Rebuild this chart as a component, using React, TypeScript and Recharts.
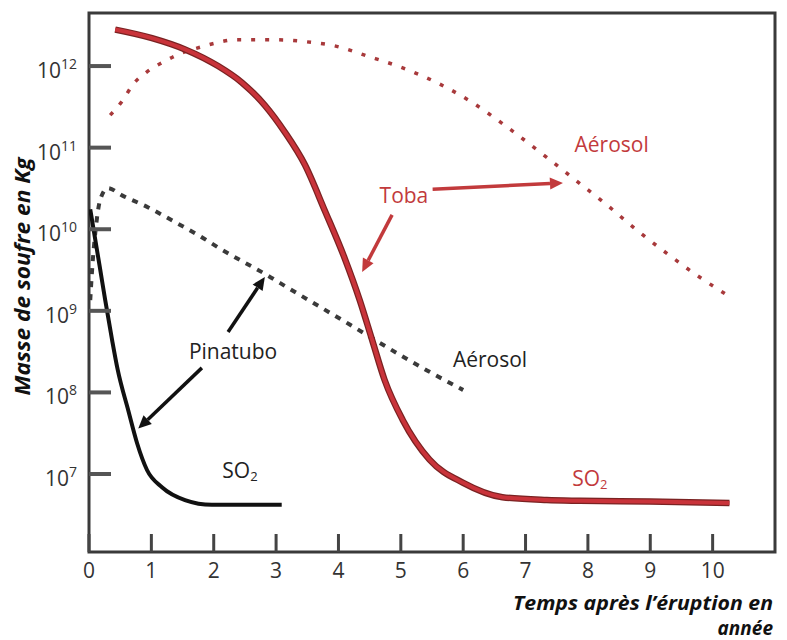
import React from "react";
import {
  LineChart,
  Line,
  XAxis,
  YAxis,
  ReferenceArea,
  ReferenceLine,
  ReferenceDot,
  Label,
} from "recharts";

// ---- Data (time in years, sulfur mass in kg) ----
const tobaSO2 = [
  { t: 0.42, v: 2.8e12 },
  { t: 1.01, v: 2.2e12 },
  { t: 1.54, v: 1.6e12 },
  { t: 2.07, v: 1.0e12 },
  { t: 2.45, v: 6.3e11 },
  { t: 2.82, v: 3.3e11 },
  { t: 3.14, v: 1.55e11 },
  { t: 3.46, v: 6.2e10 },
  { t: 3.78, v: 1.7e10 },
  { t: 4.1, v: 4.4e9 },
  { t: 4.34, v: 1.36e9 },
  { t: 4.54, v: 4.4e8 },
  { t: 4.74, v: 1.42e8 },
  { t: 5.03, v: 4.6e7 },
  { t: 5.46, v: 1.5e7 },
  { t: 6.0, v: 7.8e6 },
  { t: 6.63, v: 5.2e6 },
  { t: 7.34, v: 4.8e6 },
  { t: 7.87, v: 4.7e6 },
  { t: 8.99, v: 4.6e6 },
  { t: 10.27, v: 4.4e6 },
];

const tobaAerosol = [
  { t: 0.34, v: 2.5e11 },
  { t: 0.53, v: 3.7e11 },
  { t: 0.71, v: 6.0e11 },
  { t: 0.93, v: 8.5e11 },
  { t: 1.19, v: 1.12e12 },
  { t: 1.49, v: 1.45e12 },
  { t: 1.78, v: 1.7e12 },
  { t: 2.07, v: 1.95e12 },
  { t: 2.34, v: 2.1e12 },
  { t: 2.98, v: 2.1e12 },
  { t: 3.57, v: 1.95e12 },
  { t: 3.89, v: 1.8e12 },
  { t: 4.5, v: 1.3e12 },
  { t: 5.03, v: 9.5e11 },
  { t: 5.59, v: 6.2e11 },
  { t: 6.14, v: 3.6e11 },
  { t: 6.7, v: 1.8e11 },
  { t: 7.34, v: 7.6e10 },
  { t: 7.82, v: 3.9e10 },
  { t: 8.3, v: 2.0e10 },
  { t: 8.78, v: 9.8e9 },
  { t: 9.26, v: 5.1e9 },
  { t: 9.74, v: 2.75e9 },
  { t: 10.27, v: 1.5e9 },
];

const pinatuboSO2 = [
  { t: 0.02, v: 1.75e10 },
  { t: 0.18, v: 3.2e9 },
  { t: 0.26, v: 1.35e9 },
  { t: 0.37, v: 4.4e8 },
  { t: 0.46, v: 1.9e8 },
  { t: 0.63, v: 6.0e7 },
  { t: 0.77, v: 2.4e7 },
  { t: 0.93, v: 1.12e7 },
  { t: 1.17, v: 6.9e6 },
  { t: 1.54, v: 4.8e6 },
  { t: 1.97, v: 4.2e6 },
  { t: 3.09, v: 4.2e6 },
];

const pinatuboAerosol = [
  { t: 0.02, v: 1.35e9 },
  { t: 0.05, v: 3.2e9 },
  { t: 0.1, v: 8.9e9 },
  { t: 0.18, v: 2.3e10 },
  { t: 0.3, v: 3.2e10 },
  { t: 0.53, v: 2.6e10 },
  { t: 0.95, v: 1.85e10 },
  { t: 1.35, v: 1.26e10 },
  { t: 1.75, v: 8.5e9 },
  { t: 2.1, v: 5.8e9 },
  { t: 2.47, v: 4.0e9 },
  { t: 2.87, v: 2.7e9 },
  { t: 3.06, v: 2.2e9 },
  { t: 4.18, v: 6.8e8 },
  { t: 4.98, v: 2.9e8 },
  { t: 5.42, v: 1.86e8 },
  { t: 6.0, v: 1.07e8 },
];

const xTicks = [0, 1, 2, 3, 4, 5, 6, 7, 8, 9, 10];
const yTicks = [1e7, 1e8, 1e9, 1e10, 1e11, 1e12];
const yTickExponents = ["7", "8", "9", "10", "11", "12"];
const xDomain = [0, 11];
const yDomain = [1.107e6, 4.47e12];

// annotations: arrows [from, to] and labels
const arrows = [
  { from: { t: 5.51, v: 3.1e10 }, to: { t: 7.6, v: 3.7e10 }, color: "#c23a3c" },
  { from: { t: 4.86, v: 1.5e10 }, to: { t: 4.38, v: 3.0e9 }, color: "#c23a3c" },
  { from: { t: 2.23, v: 5.5e8 }, to: { t: 2.82, v: 2.6e9 }, color: "#111111" },
  { from: { t: 1.81, v: 2.0e8 }, to: { t: 0.79, v: 3.6e7 }, color: "#111111" },
];

const labels = [
  { t: 5.05, v: 2.6e10, text: "Toba", color: "#c23a3c", sub: "" },
  { t: 8.38, v: 1.1e11, text: "Aérosol", color: "#c23a3c", sub: "" },
  { t: 6.43, v: 2.6e8, text: "Aérosol", color: "#222222", sub: "" },
  { t: 2.31, v: 3.2e8, text: "Pinatubo", color: "#222222", sub: "" },
  { t: 2.42, v: 1.12e7, text: "SO", color: "#222222", sub: "2" },
  { t: 8.03, v: 8.9e6, text: "SO", color: "#c23a3c", sub: "2" },
];

const yAxisTitle = "Masse de soufre en Kg";
const xAxisTitle1 = "Temps après l’éruption en";
const xAxisTitle2 = "année";

const FONT = "'Open Sans', 'DejaVu Sans', sans-serif";

const XTick = (props: any) => {
  const { x, y, payload } = props;
  return (
    <g>
      <line x1={x} y1={y} x2={x} y2={y - 18} stroke="#444" strokeWidth={3} />
      <text
        x={x}
        y={y + 26}
        textAnchor="middle"
        fontFamily={FONT}
        fontSize={21}
        fill="#333"
      >
        {payload.value}
      </text>
    </g>
  );
};

const YTick = (props: any) => {
  const { x, y, payload, index } = props;
  const exp = yTickExponents[index] ?? "";
  return (
    <g>
      <line x1={x} y1={y} x2={x + 22} y2={y} stroke="#555" strokeWidth={4} />
      <text
        x={x - 12}
        y={y + 12}
        textAnchor="end"
        fontFamily={FONT}
        fontSize={21}
        fill="#333"
      >
        10
        <tspan fontSize={14} dy={-9}>
          {exp}
        </tspan>
      </text>
    </g>
  );
};

const ArrowShape = (color: string) => (props: any) => {
  const { x1, y1, x2, y2 } = props;
  if ([x1, y1, x2, y2].some((n) => typeof n !== "number" || isNaN(n))) return <g />;
  const dx = x2 - x1;
  const dy = y2 - y1;
  const len = Math.sqrt(dx * dx + dy * dy) || 1;
  const ux = dx / len;
  const uy = dy / len;
  const headL = 13;
  const headW = 6;
  const bx = x2 - ux * headL;
  const by = y2 - uy * headL;
  const px = -uy * headW;
  const py = ux * headW;
  return (
    <g>
      <line x1={x1} y1={y1} x2={bx} y2={by} stroke={color} strokeWidth={3.5} />
      <polygon
        points={`${x2},${y2} ${bx + px},${by + py} ${bx - px},${by - py}`}
        fill={color}
      />
    </g>
  );
};

const TextShape = (text: string, color: string, sub: string) => (props: any) => {
  const { cx, cy } = props;
  return (
    <text
      x={cx}
      y={cy}
      textAnchor="middle"
      dominantBaseline="central"
      fontFamily={FONT}
      fontSize={21}
      fill={color}
    >
      {text}
      {sub ? (
        <tspan fontSize={13} dy={6}>
          {sub}
        </tspan>
      ) : null}
    </text>
  );
};

export default function App() {
  return (
    <div style={{ position: "absolute", left: 0, top: 0, background: "#fff" }}>
      <LineChart
        width={787}
        height={640}
        margin={{ top: 13, right: 12, left: 0, bottom: 0 }}
      >
        <XAxis
          type="number"
          dataKey="t"
          domain={xDomain}
          ticks={xTicks}
          allowDataOverflow
          axisLine={false}
          tickLine={false}
          tickSize={0}
          tickMargin={0}
          height={88}
          tick={<XTick />}
          interval={0}
        >
          <Label
            content={(p: any) => {
              const vb = p.viewBox || { x: 89, y: 552, width: 686 };
              const rx = vb.x + vb.width - 2;
              return (
                <g>
                  <text
                    x={rx}
                    y={vb.y + 58}
                    textAnchor="end"
                    fontFamily={FONT}
                    fontWeight="bold"
                    fontStyle="italic"
                    fontSize={20}
                    textLength={260}
                    lengthAdjust="spacingAndGlyphs"
                    fill="#111"
                  >
                    {xAxisTitle1}
                  </text>
                  <text
                    x={rx}
                    y={vb.y + 83}
                    textAnchor="end"
                    fontFamily={FONT}
                    fontWeight="bold"
                    fontStyle="italic"
                    fontSize={19}
                    fill="#111"
                  >
                    {xAxisTitle2}
                  </text>
                </g>
              );
            }}
          />
        </XAxis>
        <YAxis
          type="number"
          dataKey="v"
          scale="log"
          domain={yDomain}
          ticks={yTicks}
          allowDataOverflow
          axisLine={false}
          tickLine={false}
          tickSize={0}
          tickMargin={0}
          width={89}
          tick={<YTick />}
          interval={0}
        >
          <Label
            content={(p: any) => {
              const vb = p.viewBox || { x: 0, y: 13, width: 89, height: 539 };
              const cx = vb.x + 22;
              const cy = vb.y + vb.height / 2 - 6;
              return (
                <text
                  x={cx}
                  y={cy}
                  transform={`rotate(-90 ${cx} ${cy})`}
                  textAnchor="middle"
                  dominantBaseline="central"
                  fontFamily={FONT}
                  fontWeight="bold"
                  fontStyle="italic"
                  fontSize={21}
                  textLength={238}
                  lengthAdjust="spacingAndGlyphs"
                  fill="#111"
                >
                  {yAxisTitle}
                </text>
              );
            }}
          />
        </YAxis>

        <ReferenceArea
          x1={xDomain[0]}
          x2={xDomain[1]}
          y1={yDomain[0]}
          y2={yDomain[1]}
          fill="none"
          fillOpacity={0}
          stroke="#3a3a3a"
          strokeWidth={3}
          ifOverflow="visible"
        />

        <Line
          data={tobaAerosol}
          dataKey="v"
          type="monotone"
          stroke="#a8393b"
          strokeWidth={3.5}
          strokeDasharray="4 10"
          dot={false}
          isAnimationActive={false}
        />
        <Line
          data={pinatuboAerosol}
          dataKey="v"
          type="monotone"
          stroke="#3a3a3a"
          strokeWidth={4}
          strokeDasharray="6 7"
          dot={false}
          isAnimationActive={false}
        />
        <Line
          data={pinatuboSO2}
          dataKey="v"
          type="monotone"
          stroke="#111111"
          strokeWidth={4}
          dot={false}
          isAnimationActive={false}
        />
        <Line
          data={tobaSO2}
          dataKey="v"
          type="monotone"
          stroke="#7a2222"
          strokeWidth={6.5}
          dot={false}
          isAnimationActive={false}
        />
        <Line
          data={tobaSO2}
          dataKey="v"
          type="monotone"
          stroke="#c9333a"
          strokeWidth={4}
          dot={false}
          isAnimationActive={false}
        />

        {arrows.map((a, i) => (
          <ReferenceLine
            key={`arrow-${i}`}
            segment={[
              { x: a.from.t, y: a.from.v },
              { x: a.to.t, y: a.to.v },
            ]}
            stroke={a.color}
            shape={ArrowShape(a.color)}
            ifOverflow="visible"
          />
        ))}

        {labels.map((l, i) => (
          <ReferenceDot
            key={`label-${i}`}
            x={l.t}
            y={l.v}
            r={0}
            shape={TextShape(l.text, l.color, l.sub)}
            ifOverflow="visible"
          />
        ))}
      </LineChart>
    </div>
  );
}
